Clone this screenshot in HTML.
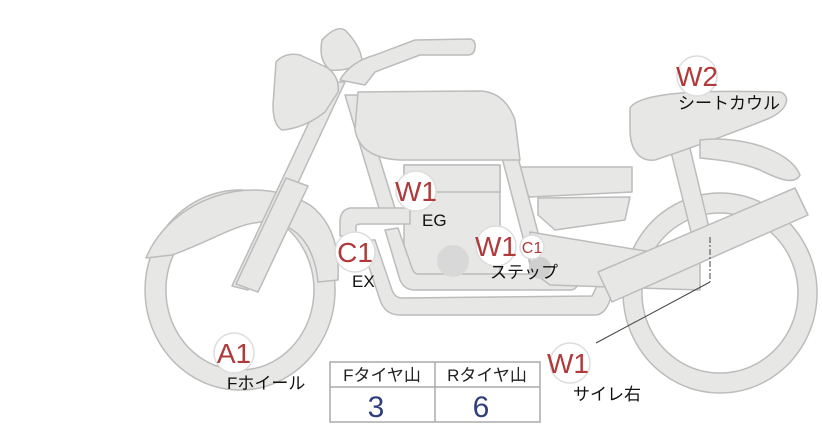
<!DOCTYPE html>
<html><head><meta charset="utf-8"><style>
body{margin:0;width:822px;height:425px;background:#fff;overflow:hidden;font-family:"Liberation Sans","Noto Sans CJK JP",sans-serif}
svg{position:absolute;left:0;top:0}
</style></head><body>
<svg width="822" height="425" viewBox="0 0 822 425">
<g fill="#e7e7e5" stroke="#bcbcbc" stroke-width="1.5" stroke-linejoin="round">
<path fill-rule="evenodd" d="M720 193a97 100 0 1 0 0.1 0zM720 213a78 80 0 1 1 -0.1 0z"/>
<path fill-rule="evenodd" d="M240 190a95 100 0 1 0 0.1 0zM240 210a74 80 0 1 1 -0.1 0z"/>
<path d="M146 258 C170 200 250 170 310 205 C330 220 340 245 338 280 L318 282 C315 250 300 225 270 222 C240 220 215 240 172 255 Z"/>
<path d="M668 140 L688 140 L712 240 L694 244 Z"/>
<path d="M630 108 C640 92 700 90 780 92 C790 95 790 108 770 118 C740 130 700 145 655 160 C640 162 630 150 630 130 Z"/>
<path d="M700 140 C740 135 790 150 800 175 C795 185 780 180 760 170 C740 162 720 160 700 158 Z"/>
<path d="M516 167 L632 167 L632 192 L530 197 L516 185 Z"/>
<path d="M538 198 L630 197 L625 220 L555 230 L538 215 Z"/>
<path d="M404 165 L500 165 L500 276 L416 276 Q404 276 404 262 Z"/>
<path d="M404 165 L500 165 L500 192 L404 192 Z"/>
<path d="M345 95 L360 95 L398 218 L383 222 Z"/>
<path d="M500 150 L516 150 L548 270 L532 272 Z"/>
<path d="M410 208 L350 208 Q340 210 340 222 L340 236 L356 236 L356 226 Q356 224 362 224 L410 224 Z"/>
<path d="M360 240 L380 300 Q385 315 400 315 L595 315 Q605 315 610 300 L618 283 L600 280 L592 296 L402 298 Q395 298 392 290 L375 240 Z"/>
<path d="M385 230 L400 280 Q404 290 415 290 L570 290 Q578 290 578 280 L578 262 L562 262 L562 274 L418 274 Q414 274 412 268 L398 228 Z"/>
<path d="M530 232 L700 260 L700 290 L550 285 L530 270 Z"/>
<circle cx="453" cy="261" r="16" fill="#d8d8d8" stroke="none"/>
<circle cx="540" cy="268" r="11" fill="#cfcfcf" stroke="none"/>
<path d="M598 272 L795 188 L808 215 L612 302 Z"/>
<path d="M358 92 L480 91 Q505 92 515 120 L520 160 L400 160 Q360 158 355 130 Z"/>
<path d="M328 82 L345 82 L248 290 L232 286 Z"/>
<path d="M286 178 L308 186 L258 292 L236 284 Z"/>
<path d="M276 62 Q285 52 300 55 L328 68 Q340 78 338 92 L325 112 Q305 128 282 130 Q273 125 273 105 Z"/>
<path d="M322 40 Q336 25 345 30 Q360 45 362 60 Q350 72 330 70 Q318 60 322 40 Z"/>
<path d="M340 80 Q350 62 375 55 L415 40 L470 39 Q476 40 475 48 Q474 55 468 55 L420 55 L375 72 L365 85 Z"/>
</g>
<line x1="596" y1="343" x2="710" y2="282" stroke="#444" stroke-width="1"/>
<line x1="710" y1="237" x2="710" y2="282" stroke="#444" stroke-width="1" stroke-dasharray="6,2,2,2"/>
<g stroke="#aaa" stroke-width="1.5" fill="#fff">
<rect x="330" y="362" width="210" height="60"/>
<line x1="330" y1="387" x2="540" y2="387"/>
<line x1="435" y1="362" x2="435" y2="422"/>
</g>
<g font-family="Liberation Sans, Noto Sans CJK JP, sans-serif">
<text x="382" y="381" font-size="17" text-anchor="middle" fill="#222">Fタイヤ山</text>
<text x="487" y="381" font-size="17" text-anchor="middle" fill="#222">Rタイヤ山</text>
<text x="376" y="417" font-size="30" text-anchor="middle" fill="#2f3f7a">3</text>
<text x="481" y="417" font-size="30" text-anchor="middle" fill="#2f3f7a">6</text>
</g>
<g fill="#fff" stroke="#ddd" stroke-width="1.5">
<circle cx="697" cy="76" r="20"/>
<circle cx="416" cy="191" r="20"/>
<circle cx="496" cy="246" r="20"/>
<circle cx="532" cy="247" r="12"/>
<circle cx="355" cy="252" r="20"/>
<circle cx="234" cy="353" r="20"/>
<circle cx="570" cy="363" r="20"/>
</g>
<g fill="#b03a3a" font-size="28" text-anchor="middle" font-family="Liberation Sans, sans-serif">
<text x="697" y="86">W2</text>
<text x="416" y="201">W1</text>
<text x="496" y="256">W1</text>
<text x="532" y="253" font-size="16">C1</text>
<text x="355" y="262">C1</text>
<text x="234" y="363">A1</text>
<text x="568" y="373">W1</text>
</g>
<g fill="#111" font-size="17" font-family="Liberation Sans, Noto Sans CJK JP, sans-serif">
<text x="678" y="109">シートカウル</text>
<text x="422" y="226">EG</text>
<text x="490" y="278">ステップ</text>
<text x="352" y="287">EX</text>
<text x="227" y="389">Fホイール</text>
<text x="573" y="400">サイレ右</text>
</g>
</svg>
</body></html>
